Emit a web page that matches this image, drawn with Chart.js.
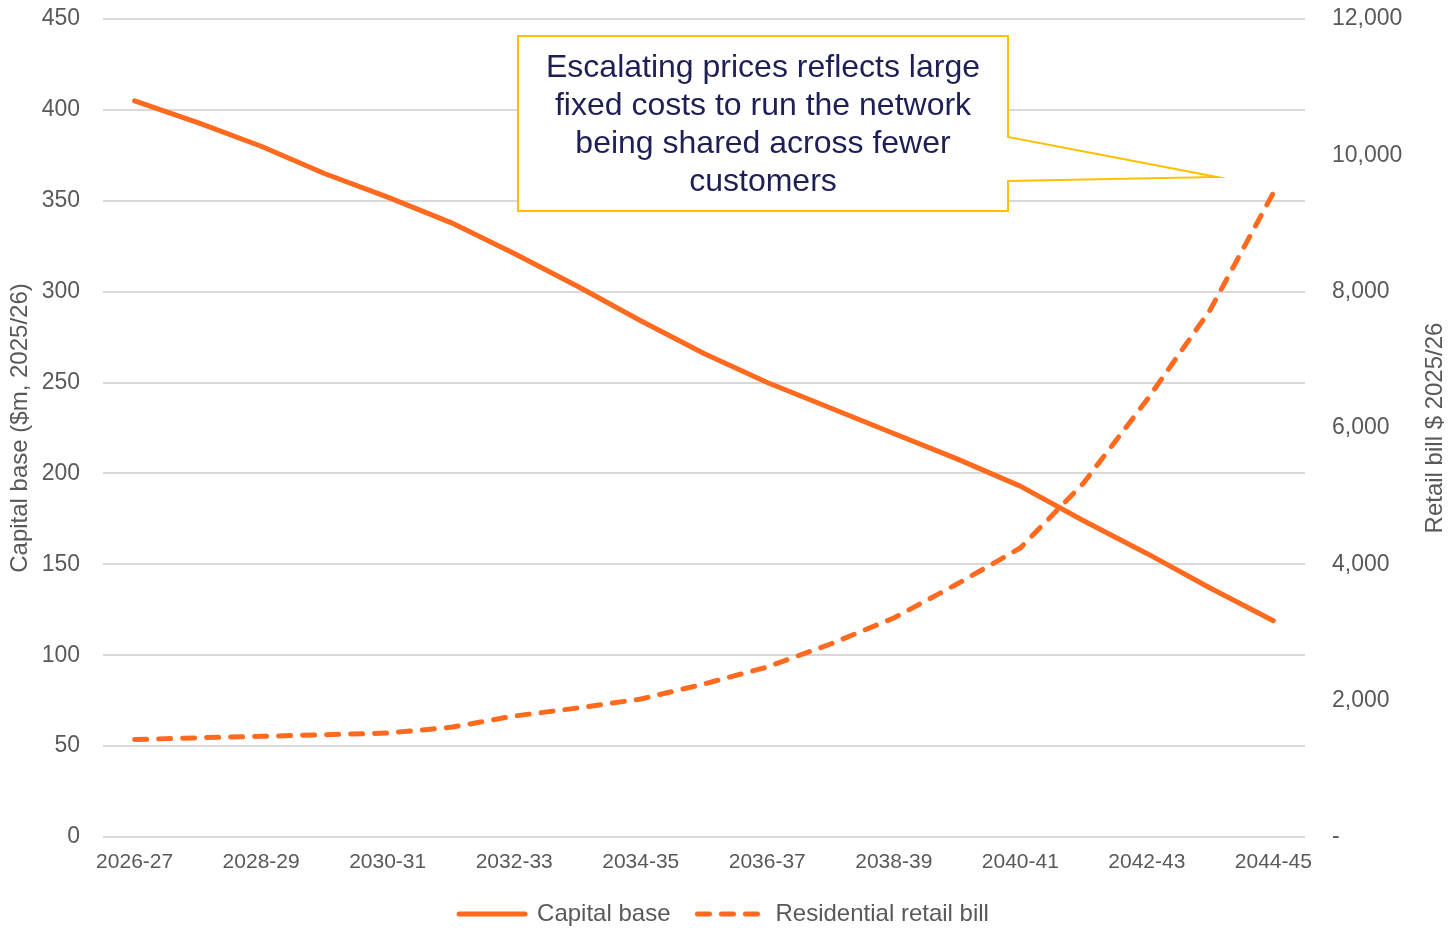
<!DOCTYPE html>
<html lang="en">
<head>
<meta charset="UTF-8">
<title>Capital base and residential retail bill</title>
<script src="https://cdn.jsdelivr.net/npm/chart.js"></script>
<style>
  html, body { margin: 0; padding: 0; background: #ffffff; }
  #wrap { width: 1448px; height: 929px; position: relative; }
</style>
</head>
<body>
<div id="wrap"><canvas id="myChart"></canvas></div>
<script>
var years = ['2026-27', '2027-28', '2028-29', '2029-30', '2030-31', '2031-32', '2032-33',
             '2033-34', '2034-35', '2035-36', '2036-37', '2037-38', '2038-39', '2039-40',
             '2040-41', '2041-42', '2042-43', '2043-44', '2044-45'];

// $m, 2025/26 (left axis)
var capitalBase = [405, 393, 380, 365, 352, 338, 321, 303, 284, 266,
                   250, 236, 222, 208, 193, 174, 156, 137, 119];

// $ 2025/26 (right axis)
var retailBill = [1430, 1455, 1477, 1500, 1525, 1609, 1775, 1892, 2024, 2245,
                  2494, 2831, 3213, 3711, 4240, 5193, 6411, 7731, 9450];

var calloutLines = ['Escalating prices reflects large',
                    'fixed costs to run the network',
                    'being shared across fewer',
                    'customers'];

var leftTitle = 'Capital base ($m, 2025/26)';
var rightTitle = 'Retail bill $ 2025/26';

var ORANGE = '#FF6A1F';
var GREY = '#595959';
var FONT = 'Liberation Sans';

// right axis title reads bottom-to-top, plus the callout box
var extras = {
    id: 'extras',
    afterDraw: function(chart) {
        var ctx = chart.ctx;
        var a = chart.chartArea;

        ctx.save();
        ctx.font = '24px "' + FONT + '"';
        ctx.fillStyle = GREY;
        ctx.textAlign = 'center';
        ctx.textBaseline = 'middle';
        ctx.translate(chart.width - 13, (a.top + a.bottom) / 2);
        ctx.rotate(-Math.PI / 2);
        ctx.fillText(rightTitle, 0, 0);
        ctx.restore();

        var L = a.left + 415, T = a.top + 17, R = L + 490, B = T + 175;
        var tipX = a.left + 1114, tipY = a.top + 158;
        ctx.save();
        ctx.beginPath();
        ctx.moveTo(L, T);
        ctx.lineTo(R, T);
        ctx.lineTo(R, a.top + 118);
        ctx.lineTo(tipX, tipY);
        ctx.lineTo(R, a.top + 162);
        ctx.lineTo(R, B);
        ctx.lineTo(L, B);
        ctx.closePath();
        ctx.fillStyle = '#ffffff';
        ctx.fill();
        ctx.lineWidth = 2;
        ctx.strokeStyle = '#FFC000';
        ctx.stroke();

        ctx.font = '32px "' + FONT + '"';
        ctx.fillStyle = '#1d1f55';
        ctx.textAlign = 'center';
        ctx.textBaseline = 'middle';
        for (var i = 0; i < calloutLines.length; i++) {
            ctx.fillText(calloutLines[i], (L + R) / 2, T + 32 + i * 38);
        }
        ctx.restore();
    }
};

function fixSideAxis(width) {
    return function(scale) {
        scale.width = width;
        scale.paddingTop = 0;
        scale.paddingBottom = 0;
    };
}

var ctx = document.getElementById('myChart').getContext('2d');
var myChart = new Chart(ctx, {
    type: 'line',
    data: {
        labels: years,
        datasets: [{
            label: 'Capital base',
            data: capitalBase,
            yAxisID: 'y',
            borderColor: ORANGE,
            backgroundColor: ORANGE,
            borderWidth: 5,
            borderCapStyle: 'round',
            borderJoinStyle: 'round',
            pointRadius: 0,
            tension: 0
        }, {
            label: 'Residential retail bill',
            data: retailBill,
            yAxisID: 'y1',
            borderColor: ORANGE,
            backgroundColor: ORANGE,
            borderWidth: 5,
            borderDash: [12, 12],
            borderCapStyle: 'round',
            borderJoinStyle: 'round',
            pointRadius: 0,
            tension: 0
        }]
    },
    options: {
        responsive: true,
        maintainAspectRatio: false,
        animation: false,
        layout: { padding: { top: 19, left: 0, right: 0, bottom: 0 } },
        plugins: {
            legend: {
                position: 'bottom',
                maxHeight: 54,
                labels: {
                    usePointStyle: true,
                    pointStyle: 'line',
                    pointStyleWidth: 66,
                    padding: 27,
                    color: GREY,
                    font: { family: FONT, size: 24 },
                    generateLabels: function(chart) {
                        var items = Chart.defaults.plugins.legend.labels.generateLabels(chart);
                        items.forEach(function(item) {
                            var ds = chart.data.datasets[item.datasetIndex];
                            item.lineDash = ds.borderDash || [];
                            item.lineCap = 'round';
                            item.lineWidth = ds.borderWidth;
                            item.strokeStyle = ds.borderColor;
                        });
                        return items;
                    }
                }
            },
            tooltip: { enabled: false }
        },
        scales: {
            x: {
                offset: true,
                grid: { display: false, drawTicks: false },
                border: { display: false },
                ticks: {
                    autoSkip: false,
                    maxRotation: 0,
                    padding: 13,
                    color: GREY,
                    font: { family: FONT, size: 21 },
                    callback: function(val, index) {
                        return index % 2 === 0 ? this.getLabelForValue(val) : '';
                    }
                },
                afterFit: function(scale) { scale.height = 38; }
            },
            y: {
                position: 'left',
                min: 0,
                max: 450,
                grid: { color: '#d9d9d9', lineWidth: 2, drawTicks: false },
                border: { display: false },
                ticks: {
                    stepSize: 50,
                    padding: 23,
                    color: GREY,
                    font: { family: FONT, size: 23 }
                },
                title: {
                    display: true,
                    text: leftTitle,
                    color: GREY,
                    font: { family: FONT, size: 24 },
                    padding: { top: 6, bottom: 0 }
                },
                afterFit: fixSideAxis(103)
            },
            y1: {
                position: 'right',
                min: 0,
                max: 12000,
                grid: { display: false, drawTicks: false },
                border: { display: false },
                ticks: {
                    stepSize: 2000,
                    padding: 27,
                    color: GREY,
                    font: { family: FONT, size: 23 },
                    callback: function(v) { return v === 0 ? '-' : v.toLocaleString('en-US'); }
                },
                afterFit: fixSideAxis(143)
            }
        }
    },
    plugins: [extras]
});
</script>
</body>
</html>
